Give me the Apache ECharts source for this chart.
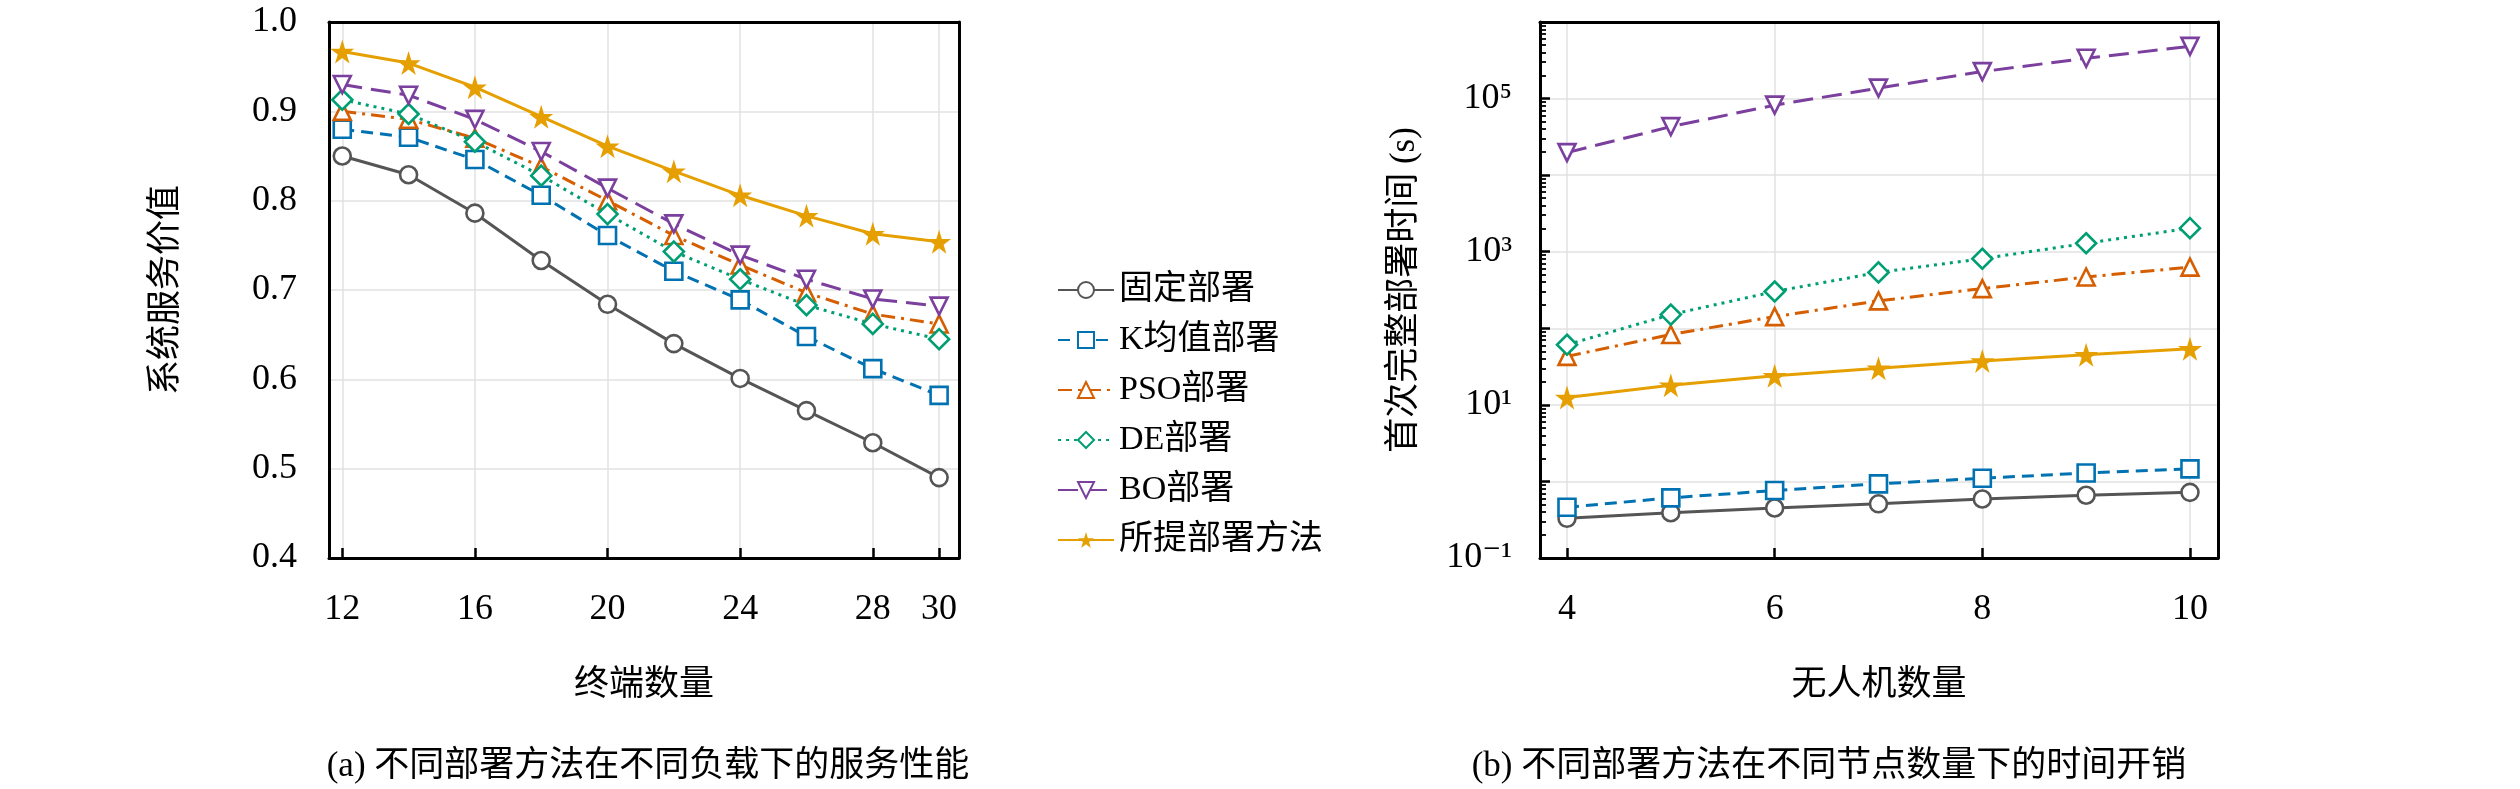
<!DOCTYPE html>
<html style="height: 100%">
<head><meta charset="utf-8"></head>
<body style="height: 100%; margin: 0; background: #fff">
<div id="container" style="width: 2520px; height: 789px"></div>
<script src="https://cdn.jsdelivr.net/npm/echarts@6/dist/echarts.min.js"></script>
<script>
var names = ['固定部署', 'K均值部署', 'PSO部署', 'DE部署', 'BO部署', '所提部署方法'];
var colors = ['#555555', '#0072B2', '#D55E00', '#009E73', '#7B3F9E', '#E69F00'];

// (a) service value vs number of terminals
var terminals = [12, 14, 16, 18, 20, 22, 24, 26, 28, 30];
var valueFixed = [0.850, 0.829, 0.786, 0.733, 0.684, 0.640, 0.601, 0.565, 0.529, 0.490];
var valueKmeans = [0.880, 0.871, 0.846, 0.806, 0.761, 0.721, 0.689, 0.648, 0.612, 0.582];
var valuePSO = [0.900, 0.891, 0.870, 0.838, 0.800, 0.761, 0.728, 0.697, 0.673, 0.662];
var valueDE = [0.913, 0.897, 0.866, 0.828, 0.785, 0.743, 0.712, 0.683, 0.662, 0.645];
var valueBO = [0.930, 0.918, 0.891, 0.855, 0.814, 0.774, 0.739, 0.712, 0.690, 0.682];
var valueOurs = [0.967, 0.954, 0.927, 0.894, 0.861, 0.833, 0.806, 0.783, 0.763, 0.754];
var xTicksA = [12, 16, 20, 24, 28, 30];

// (b) time cost vs number of UAVs
var uavs = [4, 5, 6, 7, 8, 9, 10];
var timeFixed = [0.33, 0.39, 0.45, 0.51, 0.59, 0.66, 0.72];
var timeKmeans = [0.46, 0.61, 0.76, 0.93, 1.1, 1.29, 1.46];
var timePSO = [43, 83, 142, 228, 330, 467, 630];
var timeDE = [61, 151, 302, 537, 810, 1290, 2030];
var timeBO = [19700, 43000, 82000, 137000, 225000, 336000, 480000];
var timeOurs = [12.5, 18, 24, 30, 37.5, 45, 54];
var xTicksB = [4, 6, 8, 10];

var font = 'Liberation Serif, DejaVu Serif, Noto Sans CJK SC';
var star = 'path://M50,0 L61,35 L98,35 L68,57 L79,91 L50,70 L21,91 L32,57 L2,35 L39,35 Z';
var symbols = ['circle', 'rect', 'triangle', 'diamond', 'triangle', star];
var rotates = [0, 0, 0, 0, 180, 0];
var lineTypes = ['solid', [12, 7], [14, 6, 3, 6], [3, 5], [20, 9], 'solid'];

var dataA = [valueFixed, valueKmeans, valuePSO, valueDE, valueBO, valueOurs];
var dataB = [timeFixed, timeKmeans, timePSO, timeDE, timeBO, timeOurs];

function pairs(xs, ys) {
    return xs.map(function (x, i) { return [x, ys[i]]; });
}

function makeSeries(idx, xs, ys, axis) {
    var isStar = idx === 5;
    return {
        name: names[idx],
        type: 'line',
        xAxisIndex: axis,
        yAxisIndex: axis,
        data: pairs(xs, ys),
        symbol: symbols[idx],
        symbolRotate: rotates[idx],
        symbolSize: isStar ? 24 : (idx === 3 ? 20 : 17),
        showAllSymbol: true,
        lineStyle: { color: colors[idx], width: 3, type: lineTypes[idx] },
        itemStyle: isStar
            ? { color: colors[idx] }
            : { color: '#fff', borderColor: colors[idx], borderWidth: 2.6 },
        color: colors[idx]
    };
}

var series = [];
for (var i = 0; i < 6; i++) series.push(makeSeries(i, terminals, dataA[i], 0));
for (var j = 0; j < 6; j++) series.push(makeSeries(j, uavs, dataB[j], 1));

var axisLine = { show: true, onZero: false, lineStyle: { color: '#000', width: 3 } };
var labelStyle = { color: '#000', fontSize: 36, fontFamily: font };
var nameStyle = { color: '#000', fontSize: 35, fontFamily: font };

var sup = { '-1': '⁻¹', '0': '⁰', '1': '¹', '2': '²', '3': '³', '4': '⁴', '5': '⁵', '6': '⁶' };

var option = {
    animation: false,
    textStyle: { fontFamily: font },
    grid: [
        { left: 329, top: 22, width: 630, height: 536 },
        { left: 1540, top: 22, width: 678, height: 536 }
    ],
    legend: {
        left: 1052, top: 268, orient: 'vertical', itemGap: 16,
        itemWidth: 56, itemHeight: 20,
        textStyle: { color: '#000', fontSize: 34, fontFamily: font },
        data: names
    },
    xAxis: [{
        gridIndex: 0, type: 'value', min: 11.6, max: 30.6,
        name: '终端数量', nameLocation: 'middle', nameGap: 110, nameTextStyle: nameStyle,
        axisLine: axisLine,
        axisTick: { show: true, inside: true, length: 10, customValues: xTicksA, lineStyle: { color: '#000', width: 2.5 } },
        axisLabel: Object.assign({ customValues: xTicksA, margin: 34 }, labelStyle),
        splitLine: { show: true, lineStyle: { color: '#e2e2e2', width: 1.5 } }
    }, {
        gridIndex: 1, type: 'value', min: 3.74, max: 10.27,
        name: '无人机数量', nameLocation: 'middle', nameGap: 110, nameTextStyle: nameStyle,
        axisLine: axisLine,
        axisTick: { show: true, inside: true, length: 10, customValues: xTicksB, lineStyle: { color: '#000', width: 2.5 } },
        axisLabel: Object.assign({ customValues: xTicksB, margin: 34 }, labelStyle),
        splitLine: { show: true, lineStyle: { color: '#e2e2e2', width: 1.5 } }
    }, {
        gridIndex: 0, type: 'value', position: 'top', min: 11.6, max: 30.6,
        axisLine: axisLine, axisTick: { show: false }, axisLabel: { show: false }, splitLine: { show: false }
    }, {
        gridIndex: 1, type: 'value', position: 'top', min: 3.74, max: 10.27,
        axisLine: axisLine, axisTick: { show: false }, axisLabel: { show: false }, splitLine: { show: false }
    }],
    yAxis: [{
        gridIndex: 0, type: 'value', min: 0.4, max: 1.0, interval: 0.1,
        name: '系统服务价值', nameLocation: 'middle', nameGap: 145, nameTextStyle: nameStyle,
        axisLine: axisLine,
        axisTick: { show: false },
        axisLabel: Object.assign({ margin: 32, formatter: function (v) { return v.toFixed(1); } }, labelStyle),
        splitLine: { show: true, lineStyle: { color: '#e2e2e2', width: 1.5 } }
    }, {
        gridIndex: 1, type: 'log', logBase: 10, min: 0.1, max: 1e6,
        name: '首次完整部署时间 (s)', nameLocation: 'middle', nameGap: 118, nameTextStyle: nameStyle,
        axisLine: axisLine,
        axisTick: { show: true, inside: true, length: 10, lineStyle: { color: '#000', width: 2.5 } },
        minorTick: { show: true, splitNumber: 9, length: 6, lineStyle: { color: '#000', width: 1.8 } },
        axisLabel: Object.assign({
            margin: 28,
            formatter: function (v) {
                var e = Math.round(Math.log10(v));
                if (e % 2 === 0) return '';
                return '10' + sup[String(e)];
            }
        }, labelStyle),
        splitLine: { show: true, lineStyle: { color: '#e2e2e2', width: 1.5 } }
    }, {
        gridIndex: 0, type: 'value', position: 'right', min: 0.4, max: 1.0, interval: 0.1,
        axisLine: axisLine, axisTick: { show: false }, axisLabel: { show: false }, splitLine: { show: false }
    }, {
        gridIndex: 1, type: 'log', position: 'right', min: 0.1, max: 1e6,
        axisLine: axisLine, axisTick: { show: false }, axisLabel: { show: false }, splitLine: { show: false }
    }],
    title: [
        { text: '(a) 不同部署方法在不同负载下的服务性能', left: 643, top: 744, textAlign: 'center',
          textStyle: { fontSize: 35, fontWeight: 'normal', color: '#000', fontFamily: font } },
        { text: '(b) 不同部署方法在不同节点数量下的时间开销', left: 1824, top: 744, textAlign: 'center',
          textStyle: { fontSize: 35, fontWeight: 'normal', color: '#000', fontFamily: font } }
    ],
    series: series
};

var chart = echarts.init(document.getElementById('container'));
chart.setOption(option);
</script>
</body>
</html>
